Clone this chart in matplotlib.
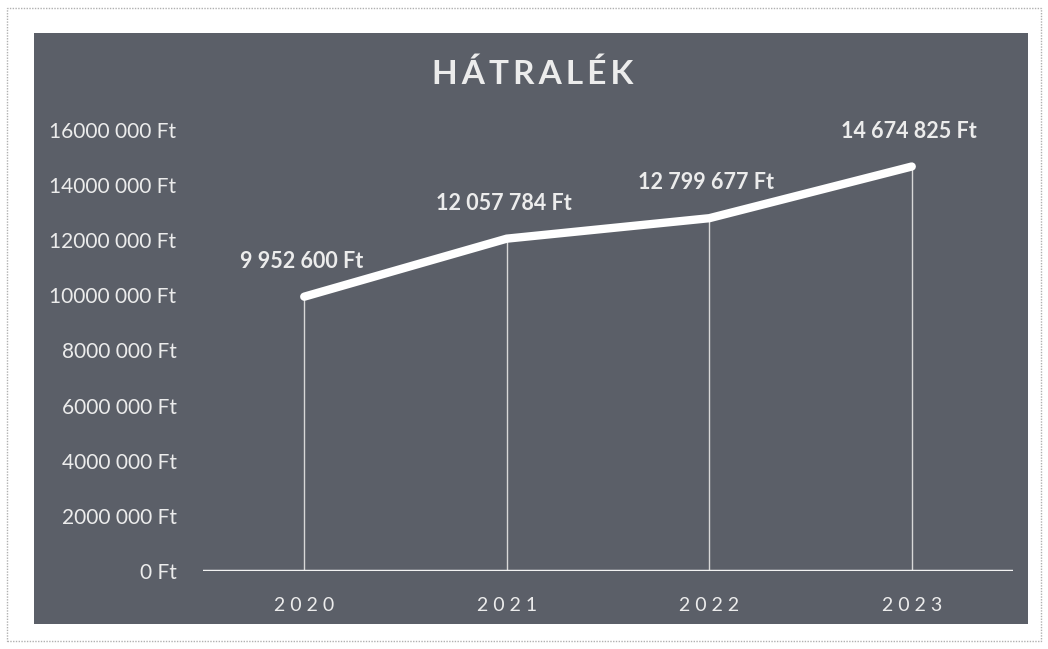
import matplotlib
matplotlib.use("Agg")
import matplotlib.pyplot as plt
from matplotlib.patches import Rectangle

plt.rcParams['font.family'] = ['Lato', 'DejaVu Sans']

# adatok
evek = ['2020', '2021', '2022', '2023']
hatralek = [9952600, 12057784, 12799677, 14674825]
y_ticks = [0, 2000000, 4000000, 6000000, 8000000, 10000000, 12000000, 14000000, 16000000]

bg = '#5b5f68'
txt = '#ececec'

def y_fmt(v):
    if v == 0:
        return '0 Ft'
    return f"{v // 1000} {v % 1000:03d} Ft"

def lbl_fmt(v):
    return f"{v:,}".replace(',', ' ') + ' Ft'

fig = plt.figure(figsize=(10.48, 6.49), dpi=100)
fig.patch.set_facecolor('white')

# keret (szkennelt lap szele)
fig.patches.append(Rectangle((0.007, 0.012), 0.986, 0.976, transform=fig.transFigure,
                             fill=False, edgecolor='#b0b0b0', linewidth=1.0,
                             linestyle=(0, (1, 1)), zorder=0))
# sötét diagramterület
fig.patches.append(Rectangle((0.0324, 0.0385), 0.9485, 0.9106, transform=fig.transFigure,
                             facecolor=bg, edgecolor='none', zorder=1))

ax = fig.add_axes([0.1937, 0.1202, 0.7729, 0.6795])
ax.set_facecolor('none')
ax.set_zorder(2)

x = list(range(len(evek)))
# függőleges vetítővonalak
ax.vlines(x, 0, hatralek, colors='#d8d8d8', linewidth=1.0, zorder=2)
ax.plot(x, hatralek, color='white', linewidth=6, solid_capstyle='round',
        solid_joinstyle='round', zorder=3, clip_on=False)

for xi, v in zip(x, hatralek):
    ax.annotate(lbl_fmt(v), (xi, v), xytext=(-2, 18), textcoords='offset points',
                ha='center', va='bottom', color=txt, fontsize=15.5, fontweight='bold')

ax.axhline(0, color='#f2f2f2', linewidth=2.5, zorder=3)

ax.set_xlim(-0.5, 3.5)
ax.set_ylim(0, 16000000)
ax.set_xticks(x)
ax.set_xticklabels([' '.join(e) for e in evek], color=txt, fontsize=14)
ax.set_yticks(y_ticks)
ax.set_yticklabels([y_fmt(v) for v in y_ticks], color=txt, fontsize=15)
ax.tick_params(axis='both', length=0)
ax.tick_params(axis='x', pad=19)
ax.tick_params(axis='y', pad=19)
for s in ax.spines.values():
    s.set_visible(False)

fig.text(0.508, 0.887, '\u2009'.join('HÁTRALÉK'), ha='center', va='center', color=txt,
         fontsize=24, fontweight='bold', zorder=5)

fig.savefig('out.png', dpi=100)
